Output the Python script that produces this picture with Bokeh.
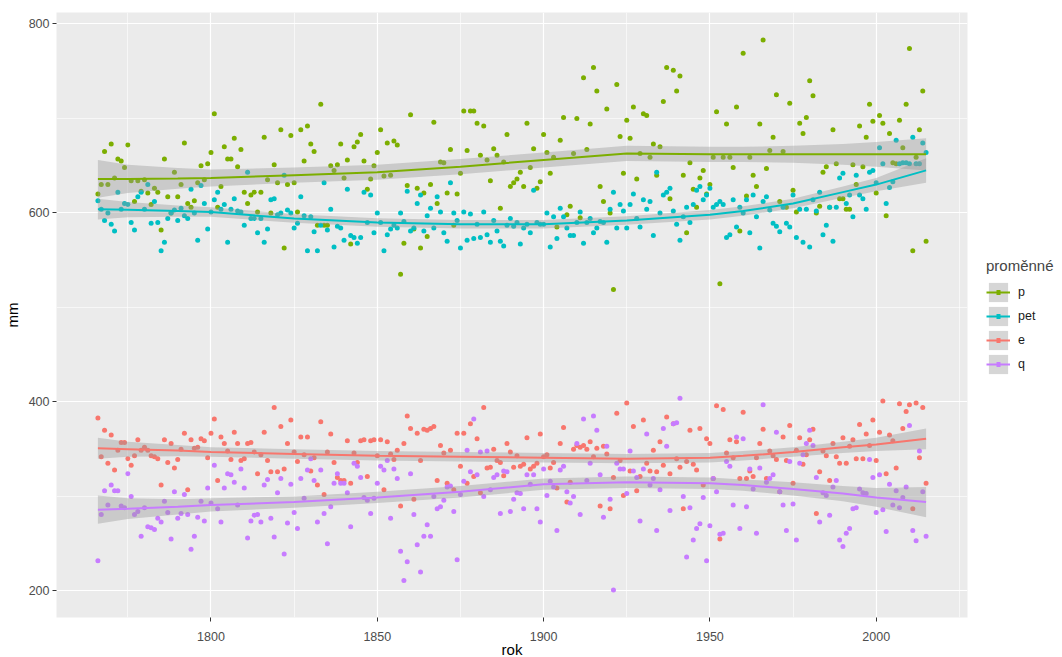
from bokeh.plotting import figure
from bokeh.models import Range1d, FixedTicker, Legend, LegendItem, ColumnDataSource
from bokeh.embed import file_html
from bokeh.resources import INLINE

years = list(range(1766, 2016))

p_vals = [
    620, 630, 665, 630, 673, 637, 657, 655, 648, 672,
    634, 612, 634, 623, 635, 621, 609, 626, 622, 582,
    657, 617, 600, 643, 617, 630, 674, 610, 606, 613,
    632, 650, 635, 652, 664, 705, 606, 628, 670, 657,
    657, 679, 649, 667, 622, 610, 619, 622, 601, 622,
    680, 635, 600, 651, 632, 688, 563, 630, 682, 632,
    601, 688, 655, 692, 673, 665, 587, 715, 587, 587,
    650, 645, 651, 673, 637, 656, 567, 670, 675, 683,
    655, 625, 636, 650, 664, 688, 639, 674, 640, 676,
    672, 535, 568, 629, 704, 583, 626, 563, 621, 575,
    630, 696, 610, 654, 653, 621, 667, 587, 620, 642,
    708, 666, 708, 708, 695, 661, 692, 656, 634, 668,
    661, 605, 654, 683, 628, 632, 636, 643, 628, 695,
    648, 668, 626, 633, 683, 664, 642, 659, 585, 677,
    701, 598, 607, 663, 700, 595, 743, 667, 694, 754,
    729, 628, 612, 710, 600, 519, 736, 681, 642, 698,
    679, 712, 636, 663, 705, 703, 659, 673, 640, 670,
    718, 754, 615, 751, 729, 745, 640, 579, 653, 625,
    606, 637, 645, 620, 630, 659, 707, 525, 659, 694,
    659, 648, 712, 581, 769, 618, 659, 640, 628, 694,
    783, 647, 666, 680, 725, 612, 665, 606, 716, 624,
    601, 695, 684, 701, 740, 724, 600, 607, 643, 649,
    606, 688, 652, 615, 615, 604, 604, 651, 630, 692,
    649, 680, 715, 697, 621, 703, 695, 597, 684, 653,
    652, 698, 669, 715, 774, 560, 659, 688, 729, 570,
]

pet_vals = [
    613, 604, 592, 600, 588, 581, 622, 604, 610, 609,
    590, 582, 617, 622, 604, 630, 589, 612, 590, 560,
    569, 594, 600, 603, 592, 605, 597, 594, 625, 600,
    571, 629, 610, 583, 601, 614, 622, 604, 609, 569,
    604, 615, 602, 601, 587, 643, 594, 594, 579, 594,
    569, 583, 614, 615, 598, 600, 640, 603, 600, 584,
    589, 617, 597, 560, 596, 580, 560, 587, 632, 582,
    604, 564, 586, 584, 571, 625, 576, 574, 568, 574,
    622, 590, 619, 579, 600, 590, 560, 577, 583, 587,
    584, 600, 591, 623, 581, 584, 610, 619, 581, 597,
    605, 584, 617, 601, 579, 570, 632, 600, 592, 563,
    601, 571, 599, 573, 588, 574, 601, 577, 569, 592,
    581, 570, 565, 587, 594, 586, 590, 567, 584, 588,
    579, 624, 590, 588, 588, 600, 564, 596, 573, 605,
    596, 584, 576, 576, 590, 601, 568, 590, 594, 579,
    584, 591, 590, 569, 604, 622, 584, 609, 602, 584,
    609, 620, 594, 585, 614, 604, 612, 576, 643, 600,
    619, 622, 626, 602, 588, 571, 596, 606, 590, 609,
    624, 628, 614, 619, 626, 606, 609, 612, 609, 574,
    577, 614, 585, 606, 600, 614, 579, 619, 596, 563,
    612, 617, 603, 589, 586, 580, 606, 589, 585, 619,
    574, 604, 569, 604, 564, 614, 602, 622, 577, 587,
    606, 570, 606, 637, 642, 610, 619, 596, 640, 619,
    615, 604, 643, 645, 632, 669, 652, 610, 627, 633,
    677, 652, 653, 653, 652, 680, 652, 652, 674, 664,
]

e_vals = [
    383, 342, 370, 335, 365, 328, 349, 357, 357, 340,
    333, 343, 360, 349, 352, 349, 343, 342, 340, 312,
    360, 336, 356, 330, 339, 350, 367, 307, 360, 351,
    352, 361, 359, 341, 367, 382, 317, 363, 356, 348,
    339, 368, 356, 338, 340, 356, 357, 347, 324, 344,
    368, 338, 326, 394, 326, 374, 329, 356, 381, 347,
    337, 363, 344, 363, 327, 341, 312, 379, 302, 347,
    366, 336, 320, 317, 317, 359, 314, 346, 336, 359,
    360, 321, 359, 360, 343, 360, 307, 358, 345, 339,
    349, 290, 356, 385, 372, 297, 367, 338, 371, 370,
    372, 374, 317, 354, 346, 314, 349, 307, 367, 332,
    367, 314, 377, 321, 361, 304, 394, 330, 331, 350,
    338, 336, 322, 356, 347, 331, 343, 332, 334, 362,
    329, 332, 335, 366, 342, 344, 330, 336, 309, 356,
    373, 294, 315, 350, 354, 352, 354, 350, 358, 342,
    351, 290, 353, 345, 287, 320, 388, 338, 301, 399,
    327, 374, 306, 321, 381, 335, 327, 349, 326, 358,
    333, 384, 324, 377, 340, 331, 287, 337, 370, 334,
    328, 372, 312, 361, 356, 319, 396, 255, 392, 346,
    360, 341, 358, 319, 389, 319, 327, 321, 341, 356,
    371, 319, 348, 343, 339, 305, 363, 338, 375, 314,
    349, 362, 334, 344, 360, 371, 282, 326, 348, 343,
    317, 356, 342, 335, 362, 335, 353, 360, 340, 376,
    340, 366, 354, 381, 338, 368, 401, 324, 365, 359,
    330, 398, 372, 390, 397, 287, 399, 341, 394, 314,
]

q_vals = [
    232, 281, 306, 291, 312, 306, 306, 290, 288, 324,
    300, 281, 284, 258, 288, 268, 267, 265, 277, 273,
    295, 283, 255, 305, 277, 282, 302, 281, 244, 258,
    278, 295, 274, 309, 293, 333, 287, 273, 309, 324,
    323, 315, 291, 329, 309, 256, 274, 280, 281, 273,
    312, 318, 277, 257, 304, 319, 239, 272, 313, 283,
    266, 319, 298, 328, 340, 317, 273, 328, 282, 250,
    289, 314, 324, 314, 314, 304, 268, 335, 332, 320,
    299, 296, 282, 298, 314, 332, 328, 338, 277, 329,
    319, 242, 211, 231, 324, 281, 249, 220, 258, 270,
    258, 300, 287, 289, 296, 310, 311, 284, 233, 302,
    316, 349, 326, 382, 323, 347, 300, 348, 307, 320,
    323, 282, 327, 326, 284, 297, 304, 303, 287, 323,
    313, 323, 287, 273, 329, 301, 316, 310, 264, 328,
    332, 305, 293, 300, 356, 281, 382, 317, 335, 385,
    370, 323, 278, 353, 297, 201, 335, 329, 329, 303,
    348, 327, 320, 274, 329, 366, 312, 319, 264, 307,
    372, 353, 285, 377, 378, 404, 300, 236, 288, 254,
    266, 271, 299, 232, 269, 319, 305, 260, 261, 337,
    332, 291, 363, 266, 361, 289, 329, 308, 261, 330,
    397, 315, 319, 323, 368, 305, 291, 264, 337, 292,
    254, 335, 344, 356, 370, 354, 320, 273, 304, 301,
    280, 310, 317, 254, 247, 261, 266, 287, 288, 308,
    304, 303, 339, 320, 283, 323, 286, 263, 313, 291,
    306, 288, 299, 310, 375, 264, 253, 348, 305, 258,
]

# smoothed fits (loess curves) and half-width of their bands
fit_years = [1766, 1775, 1790, 1800, 1825, 1850, 1875, 1900, 1925, 1950, 1960, 1975, 1990, 2000, 2015]
p_fit = [636, 636, 636.5, 637, 640, 643, 649, 656, 663, 662, 662, 662, 662, 662, 662]
p_se = [20, 15, 11, 9, 8, 8, 8, 8, 8, 8, 8, 9, 11, 13, 17]
pet_fit = [604, 603.5, 602, 601, 594, 590, 588, 588, 592, 598, 602, 610, 622, 630, 645]
pet_se = [11, 8, 6, 5, 4.5, 4.5, 4.5, 4.5, 4.5, 5, 5, 5, 6, 7, 13]
e_fit = [351, 350, 348.5, 347, 345, 343, 342, 341, 340, 341, 343, 347, 352, 355, 361]
e_se = [11, 8, 6, 5, 5, 5, 5, 5, 5, 5, 5, 5, 6, 7, 11]
q_fit = [286, 287, 289, 291, 294, 299, 305, 313, 315, 314, 312, 308, 303, 299, 294]
q_se = [15, 11, 8, 7, 6, 6, 6, 6, 6, 6, 6, 7, 8, 10, 16]

names = ["p", "pet", "e", "q"]
colors = {"p": "#7CAE00", "pet": "#00BFC4", "e": "#F8766D", "q": "#C77CFF"}
vals = {"p": p_vals, "pet": pet_vals, "e": e_vals, "q": q_vals}
fits = {"p": p_fit, "pet": pet_fit, "e": e_fit, "q": q_fit}
ses = {"p": p_se, "pet": pet_se, "e": e_se, "q": q_se}

for k in names:
    assert len(vals[k]) == len(years), (k, len(vals[k]))

allv = p_vals + pet_vals + e_vals + q_vals
ypad = 0.05 * (max(allv) - min(allv))
xpad = 0.05 * (max(years) - min(years))

FONT = "Liberation Sans"

p = figure(frame_width=911, frame_height=605, min_border_left=47, min_border_top=12,
           min_border_right=96, min_border_bottom=0,
           x_range=Range1d(min(years) - xpad, max(years) + xpad),
           y_range=Range1d(min(allv) - ypad, max(allv) + ypad),
           output_backend="svg", toolbar_location=None,
           background_fill_color="#EBEBEB", border_fill_color="white",
           outline_line_color=None)

pts = {}
for k in ["e", "p", "pet", "q"]:
    src = ColumnDataSource(dict(x=years, y=vals[k]))
    pts[k] = p.scatter("x", "y", source=src, size=5, fill_color=colors[k], line_color=None)

bands = {}
for k in names:
    lo = [f - s for f, s in zip(fits[k], ses[k])]
    hi = [f + s for f, s in zip(fits[k], ses[k])]
    src = ColumnDataSource(dict(x=fit_years, lo=lo, hi=hi))
    bands[k] = p.varea(x="x", y1="lo", y2="hi", source=src, fill_color="#999999", fill_alpha=0.4)

lines = {}
for k in names:
    src = ColumnDataSource(dict(x=fit_years, y=fits[k]))
    lines[k] = p.line("x", "y", source=src, line_color=colors[k], line_width=2)

# small square-ish dots for the legend keys: a one-point line (draws nothing in the
# plot) whose dash pattern leaves a single short dash in the middle of the key
dots = {}
for k in names:
    src = ColumnDataSource(dict(x=fit_years[:1], y=fits[k][:1]))
    dots[k] = p.line("x", "y", source=src, line_color=colors[k], line_width=5,
                     line_cap="butt", line_dash="0 10 4 10")

# axes and grid
p.xaxis.ticker = FixedTicker(ticks=[1800, 1850, 1900, 1950, 2000],
                             minor_ticks=[1775, 1825, 1875, 1925, 1975, 2025])
p.yaxis.ticker = FixedTicker(ticks=[200, 400, 600, 800], minor_ticks=[300, 500, 700])
for ax in (p.xaxis, p.yaxis):
    ax.axis_line_color = None
    ax.major_tick_line_color = "#333333"
    ax.major_tick_out = 4
    ax.major_tick_in = 0
    ax.minor_tick_line_color = None
    ax.major_label_text_font = FONT
    ax.major_label_text_font_size = "12.5px"
    ax.major_label_text_color = "#4D4D4D"
    ax.axis_label_text_font = FONT
    ax.axis_label_text_font_size = "15px"
    ax.axis_label_text_font_style = "normal"
    ax.axis_label_text_color = "#000000"
p.xaxis.axis_label = "rok"
p.yaxis.axis_label = "mm"
p.xaxis.major_label_standoff = 10
p.yaxis.major_label_standoff = 3
p.xaxis.axis_label_standoff = -3
p.yaxis.axis_label_standoff = 5

for g in (p.xgrid, p.ygrid):
    g.grid_line_color = "white"
    g.grid_line_width = 1.2
    g.minor_grid_line_color = "white"
    g.minor_grid_line_width = 0.6

legend = Legend(items=[LegendItem(label=k, renderers=[bands[k], lines[k], dots[k]]) for k in names],
                title="proměnné", location=(19, 241))
legend.margin = 0
legend.padding = 4
legend.spacing = 0
legend.glyph_width = 24
legend.glyph_height = 24
legend.label_standoff = 8
legend.label_text_font = FONT
legend.label_text_font_size = "12.5px"
legend.label_text_color = "#1A1A1A"
legend.title_text_font = FONT
legend.title_text_font_size = "15px"
legend.title_text_font_style = "normal"
legend.title_standoff = 6
legend.border_line_color = None
legend.background_fill_color = "white"
legend.background_fill_alpha = 1
p.add_layout(legend, "right")

open("out.html", "w").write(file_html(p, INLINE))
